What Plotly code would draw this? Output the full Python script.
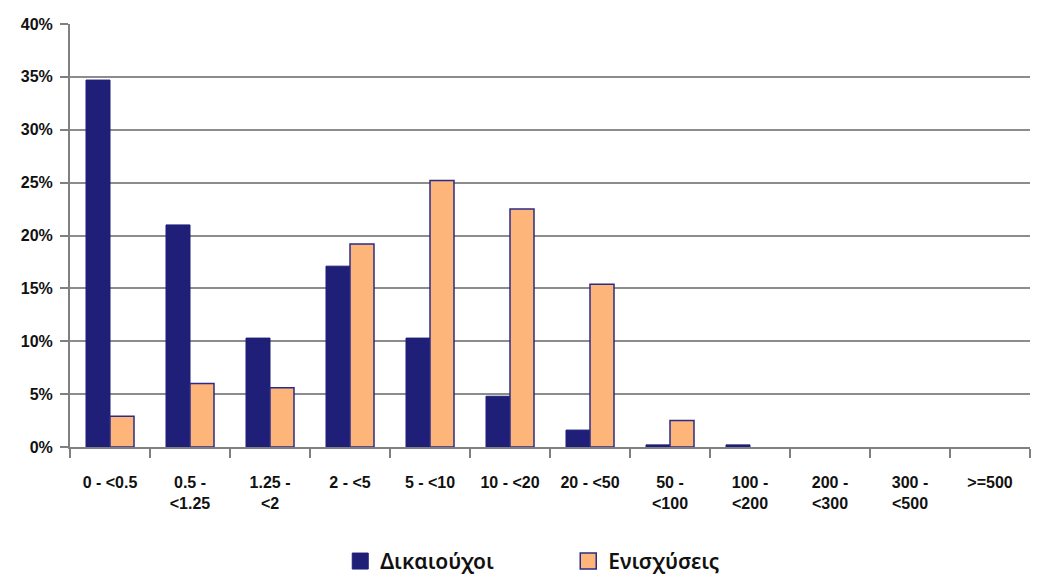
import plotly.graph_objects as go

categories = ["0 - <0.5", "0.5 -<br><1.25", "1.25 -<br><2", "2 - <5", "5 - <10", "10 - <20",
              "20 - <50", "50 -<br><100", "100 -<br><200", "200 -<br><300", "300 -<br><500", ">=500"]
dikaiouxoi = [34.7, 21.0, 10.3, 17.1, 10.3, 4.8, 1.6, 0.2, 0.2, 0, 0, 0]
enisxyseis = [2.9, 6.0, 5.6, 19.2, 25.2, 22.5, 15.4, 2.5, 0, 0, 0, 0]
series_names = ["Δικαιούχοι", "Ενισχύσεις"]
y_ticks = [0, 5, 10, 15, 20, 25, 30, 35, 40]

BLUE = "#1f1f78"
ORANGE = "#fdb57a"
EDGE = "#2b2b8a"

fig = go.Figure()
fig.add_trace(go.Bar(x=categories, y=dikaiouxoi, name=series_names[0], marker_color=BLUE,
                     marker_line=dict(color=BLUE, width=[1 if v > 0 else 0 for v in dikaiouxoi]),
                     showlegend=False))
fig.add_trace(go.Bar(x=categories, y=enisxyseis, name=series_names[1], marker_color=ORANGE,
                     marker_line=dict(color=EDGE, width=[1.5 if v > 0 else 0 for v in enisxyseis]),
                     showlegend=False))
# legend entries with larger square symbols
fig.add_trace(go.Scatter(x=[None], y=[None], mode="markers", name=series_names[0],
                         marker=dict(symbol="square", size=22, color=BLUE, line=dict(color=BLUE, width=1))))
fig.add_trace(go.Scatter(x=[None], y=[None], mode="markers", name=series_names[1],
                         marker=dict(symbol="square", size=22, color=ORANGE, line=dict(color=EDGE, width=1.5))))

fig.update_layout(
    width=1039, height=578,
    margin=dict(l=62, r=17, t=16, b=139, autoexpand=False),
    plot_bgcolor="white", paper_bgcolor="white",
    barmode="group", bargap=0.4, bargroupgap=0,
    font=dict(family="Liberation Sans, Arial, sans-serif", size=16, color="#111", weight="bold"),
    legend=dict(orientation="h", x=0.519, xanchor="center", y=-0.222, yanchor="top",
                font=dict(family="Noto Sans, sans-serif", size=21, color="#111", weight=600),
                itemwidth=30, tracegroupgap=0, entrywidth=183),
)
fig.update_xaxes(type="category", tickson="boundaries", ticks="outside", ticklen=9,
                 tickcolor="#808080", tickwidth=2, showline=True, linecolor="#808080", linewidth=2,
                 showgrid=False, range=[-0.5, 11.5], automargin=False, ticklabelstandoff=20)
fig.update_yaxes(range=[0, 40], tickvals=y_ticks, ticktext=[f"{v}%" for v in y_ticks],
                 showgrid=True, gridcolor="#8c8c8c", gridwidth=2, ticks="outside", ticklen=8,
                 tickcolor="#808080", tickwidth=2, showline=True, linecolor="#808080", linewidth=2,
                 zeroline=False, automargin=False, ticklabelstandoff=4)

fig.write_html("out.html")
